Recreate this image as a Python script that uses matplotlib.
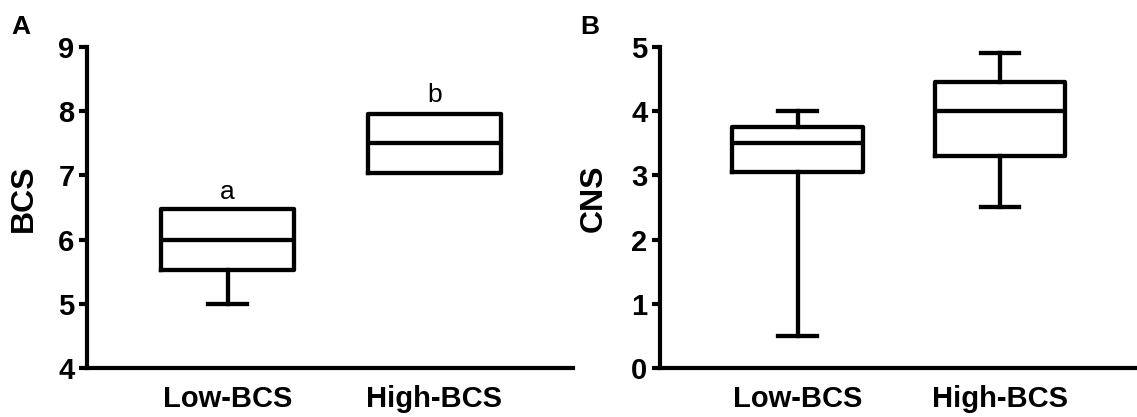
import matplotlib
matplotlib.use('Agg')
from matplotlib import pyplot as plt

# data
groups = ['Low-BCS', 'High-BCS']

bcs_min = [5.0, 7.03]
bcs_q1 = [5.53, 7.03]
bcs_med = [6.0, 7.5]
bcs_q3 = [6.47, 7.95]
bcs_max = [6.47, 7.95]
bcs_letters = ['a', 'b']
bcs_letter_y = [6.74, 8.25]

cns_min = [0.5, 2.5]
cns_q1 = [3.05, 3.3]
cns_med = [3.5, 4.0]
cns_q3 = [3.75, 4.45]
cns_max = [4.0, 4.9]

plt.rcParams['font.family'] = ['Liberation Sans', 'DejaVu Sans']


def make_stats(lo, q1, med, q3, hi):
    stats = []
    for i in range(len(groups)):
        stats.append({'whislo': lo[i], 'q1': q1[i], 'med': med[i],
                      'q3': q3[i], 'whishi': hi[i], 'label': groups[i]})
    return stats


def draw_panel(ax, stats, ylim, yticks, ylabel, label_x, letter, letter_x):
    lw = 3.1
    parts = ax.bxp(stats, positions=[1, 2], widths=0.644, capwidths=0.19,
                   showfliers=False,
                   boxprops=dict(color='black', linewidth=lw),
                   medianprops=dict(color='black', linewidth=lw),
                   whiskerprops=dict(color='black', linewidth=lw),
                   capprops=dict(color='black', linewidth=lw))
    # no cap where the whisker has zero length
    for i, st in enumerate(stats):
        if st['whislo'] == st['q1']:
            parts['caps'][2 * i].set_visible(False)
        if st['whishi'] == st['q3']:
            parts['caps'][2 * i + 1].set_visible(False)
    ax.set_xlim(0.32, 2.67)
    ax.set_ylim(*ylim)
    ax.set_yticks(yticks)
    ax.set_xticks([1, 2])
    ax.set_xticklabels(groups)
    for s in ['top', 'right']:
        ax.spines[s].set_visible(False)
    for s in ['left', 'bottom']:
        ax.spines[s].set_linewidth(3)
    ax.tick_params(axis='y', length=6, width=3, pad=3, labelsize=21)
    ax.tick_params(axis='x', length=0, pad=12, labelsize=21)
    for lab in ax.get_xticklabels() + ax.get_yticklabels():
        lab.set_fontweight('bold')
    ax.set_ylabel(ylabel, fontsize=23, fontweight='bold')
    ax.yaxis.set_label_coords(label_x, 0.53)
    fig.text(letter_x, 0.965, letter, fontsize=19, fontweight='bold',
             ha='left', va='top')


fig = plt.figure(figsize=(11.37, 4.17), dpi=100)
ax1 = fig.add_axes([0.0765, 0.1175, 0.4274, 0.770])
ax2 = fig.add_axes([0.5805, 0.1175, 0.4180, 0.770])

draw_panel(ax1, make_stats(bcs_min, bcs_q1, bcs_med, bcs_q3, bcs_max),
           (4, 9), [4, 5, 6, 7, 8, 9], 'BCS', -0.099, 'A', 0.010)
for i, t in enumerate(bcs_letters):
    ax1.text(i + 1, bcs_letter_y[i], t, fontsize=19, ha='center', va='center')

draw_panel(ax2, make_stats(cns_min, cns_q1, cns_med, cns_q3, cns_max),
           (0, 5), [0, 1, 2, 3, 4, 5], 'CNS', -0.107, 'B', 0.510)

plt.savefig('out.png', dpi=100)
